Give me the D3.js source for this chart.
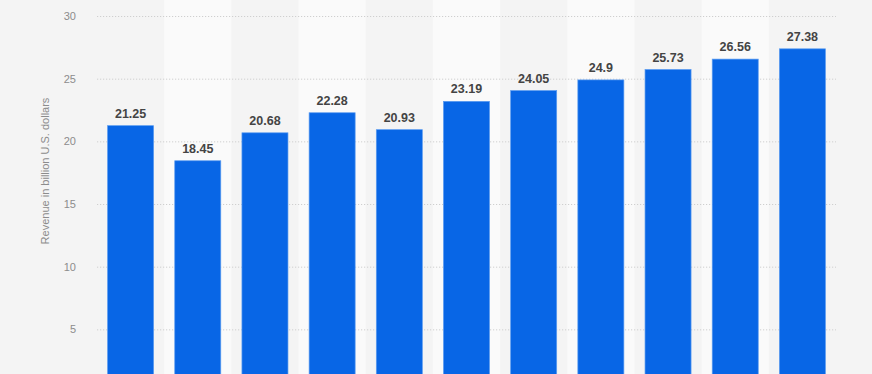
<!DOCTYPE html>
<html>
<head>
<meta charset="utf-8">
<script src="https://cdn.jsdelivr.net/npm/d3@7"></script>
<style>
  html, body { margin: 0; padding: 0; background: #f4f4f4; overflow: hidden; }
  svg { display: block; font-family: "Liberation Sans", Arial, sans-serif; }
</style>
</head>
<body>
<svg id="chart" width="872" height="374"></svg>
<script>
const categories = ["2013", "2014", "2015", "2016", "2017", "2018", "2019", "2020", "2021", "2022", "2023"];
const revenue = [21.25, 18.45, 20.68, 22.28, 20.93, 23.19, 24.05, 24.9, 25.73, 26.56, 27.38];
const yTicks = [5, 10, 15, 20, 25, 30];
const yTitle = "Revenue in billion U.S. dollars";

const svg = d3.select("#chart");
const W = 872, H = 374;
const plot = { left: 97, right: 836, top: 16, bottom: 392 };

svg.append("rect").attr("width", W).attr("height", H).attr("fill", "#f4f4f4");

const x = d3.scaleBand().domain(categories).range([plot.left, plot.right]).paddingInner(0.315).paddingOuter(0.1575);
const xBands = d3.scaleBand().domain(categories).range([plot.left, plot.right]).padding(0);
const y = d3.scaleLinear().domain([0, 30]).range([plot.bottom, plot.top]);

// alternating column backgrounds
svg.append("g").selectAll("rect")
  .data(categories.filter((d, i) => i % 2 === 1))
  .join("rect")
  .attr("x", d => xBands(d))
  .attr("y", 0)
  .attr("width", xBands.bandwidth())
  .attr("height", H)
  .attr("fill", "#fafafa");

// gridlines + tick labels
const yAxis = d3.axisLeft(y).tickValues(yTicks).tickSize(-(plot.right - plot.left)).tickPadding(21);
const gy = svg.append("g").attr("transform", `translate(${plot.left},0)`).call(yAxis);
gy.select(".domain").remove();
gy.selectAll(".tick line").attr("stroke", "#cfcfcf").attr("stroke-dasharray", "1.2,1.8").attr("stroke-width", 1);
gy.selectAll(".tick text").attr("fill", "#8c8c8c").attr("font-size", 11).attr("font-family", "Liberation Sans, Arial, sans-serif");

// y title
svg.append("text")
  .attr("transform", `translate(49,171) rotate(-90)`)
  .attr("text-anchor", "middle")
  .attr("fill", "#8c8c8c")
  .attr("font-size", 11)
  .text(yTitle);

// bars
svg.append("g").selectAll("rect")
  .data(revenue)
  .join("rect")
  .attr("x", (d, i) => x(categories[i]))
  .attr("y", d => y(d))
  .attr("width", x.bandwidth())
  .attr("height", d => plot.bottom - y(d))
  .attr("fill", "#0866e6")
  .attr("stroke", "#5a9bf0")
  .attr("stroke-width", 0.7);

// value labels
svg.append("g").selectAll("text")
  .data(revenue)
  .join("text")
  .attr("x", (d, i) => x(categories[i]) + x.bandwidth() / 2)
  .attr("y", d => y(d) - 8)
  .attr("text-anchor", "middle")
  .attr("font-size", 12.5)
  .attr("font-weight", "bold")
  .attr("fill", "#444")
  .text(d => d);
</script>
</body>
</html>
